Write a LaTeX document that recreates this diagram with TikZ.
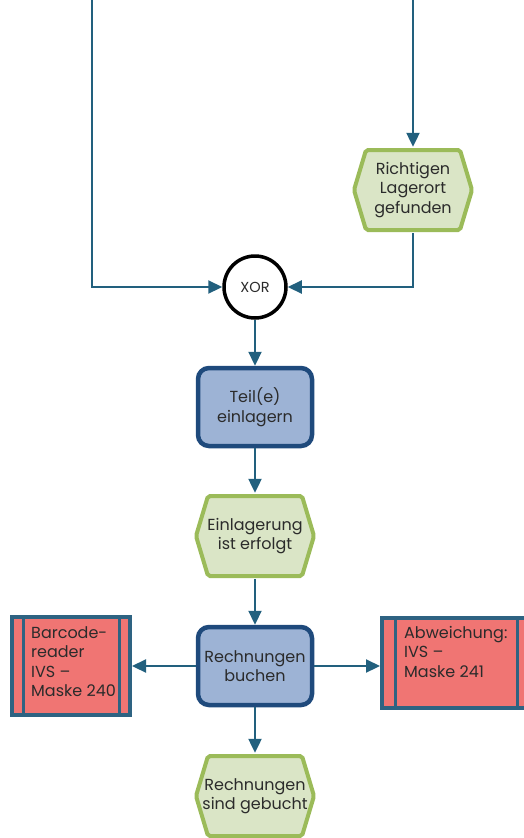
\documentclass[tikz,border=0pt]{standalone}
\usepackage{fontspec}
\setmainfont{Poppins}
\usetikzlibrary{arrows.meta}
\definecolor{flow}{HTML}{22607E}
\definecolor{procfill}{HTML}{9DB3D5}
\definecolor{procline}{HTML}{1F4A7C}
\definecolor{evfill}{HTML}{DAE5C6}
\definecolor{evline}{HTML}{9BBB59}
\definecolor{sysfill}{HTML}{F07573}
\definecolor{sysline}{HTML}{2E6382}
\definecolor{txt}{HTML}{2B2B2B}
\tikzset{
  every node/.style={font=\fontsize{16}{19.5}\selectfont, text=txt},
  % event: hexagon drawn inside the node box, behind the text
  event/.style={rectangle, minimum width=124pt, minimum height=86pt,
    inner sep=0pt, align=center,
    path picture={
      \draw[draw=evline, fill=evfill, line width=4pt, rounded corners=2pt]
        ([xshift=3pt]path picture bounding box.west)
        -- ([shift={(15pt,-3pt)}]path picture bounding box.north west)
        -- ([shift={(-15pt,-3pt)}]path picture bounding box.north east)
        -- ([xshift=-3pt]path picture bounding box.east)
        -- ([shift={(-15pt,3pt)}]path picture bounding box.south east)
        -- ([shift={(15pt,3pt)}]path picture bounding box.south west)
        -- cycle;
    }},
  process/.style={rectangle, rounded corners=11pt, fill=procfill, draw=procline,
    line width=4.5pt, minimum width=114pt, minimum height=78pt, align=center},
  system/.style={rectangle, fill=sysfill, draw=sysline, line width=4pt,
    align=left, inner sep=0pt},
  xor/.style={circle, draw=black, line width=3.5pt, fill=white,
    minimum size=62pt, inner sep=0pt, font=\fontsize{14.5}{16}\selectfont},
  flowline/.style={draw=flow, line width=2.2pt},
  arr/.style={flowline, -{Triangle[length=14pt, width=13pt]}},
  divider/.style={draw=sysline, line width=3pt}
}
\begin{document}
\begin{tikzpicture}[x=1pt, y=-1pt]
  \useasboundingbox (0,0) rectangle (524,838);
  % free ends of the two incoming branches
  \coordinate (inL) at (92,0);
  \coordinate (inR) at (413,0);

  \node[event] (lager) at (413,190) {Richtigen\\Lagerort\\gefunden};
  \node[xor] (xor) at (255,287) {XOR};
  \node[process] (teil) at (255,407) {Teil(e)\\einlagern};
  \node[event] (einl) at (255,536) {Einlagerung\\ist erfolgt};
  \node[process] (rech) at (255,666) {Rechnungen\\buchen};
  \node[event] (geb) at (255,796) {Rechnungen\\sind gebucht};

  % IT systems with side bars
  \node[system, minimum width=118pt, minimum height=98pt] (bc) at (71,666) {};
  \node[anchor=north west, align=left, inner sep=0pt] (bct) at (31,626)
    {Barcode-\\reader\\IVS --\\Maske 240};
  \draw[divider] ([xshift=13pt]bc.north west) -- ([xshift=13pt]bc.south west);
  \draw[divider] ([xshift=-13pt]bc.north east) -- ([xshift=-13pt]bc.south east);

  \node[system, minimum width=148pt, minimum height=90pt] (abw) at (456,663) {};
  \node[anchor=north west, align=left, inner sep=0pt] (abwt) at (404,626)
    {Abweichung:\\IVS --\\Maske 241};
  \draw[divider] ([xshift=15pt]abw.north west) -- ([xshift=15pt]abw.south west);
  \draw[divider] ([xshift=-15pt]abw.north east) -- ([xshift=-15pt]abw.south east);

  % control flow
  \draw[arr] (inL) |- (xor.west);
  \draw[arr] (inR) -- (lager.north);
  \draw[arr] (lager.south) |- (xor.east);
  \draw[arr] (xor.south) -- (teil.north);
  \draw[arr] (teil.south) -- (einl.north);
  \draw[arr] (einl.south) -- (rech.north);
  \draw[arr] (rech.west) -- (bc.east);
  \draw[arr] (rech.east) -- (rech.east -| abw.west);
  \draw[arr] (rech.south) -- (geb.north);
\end{tikzpicture}
\end{document}
